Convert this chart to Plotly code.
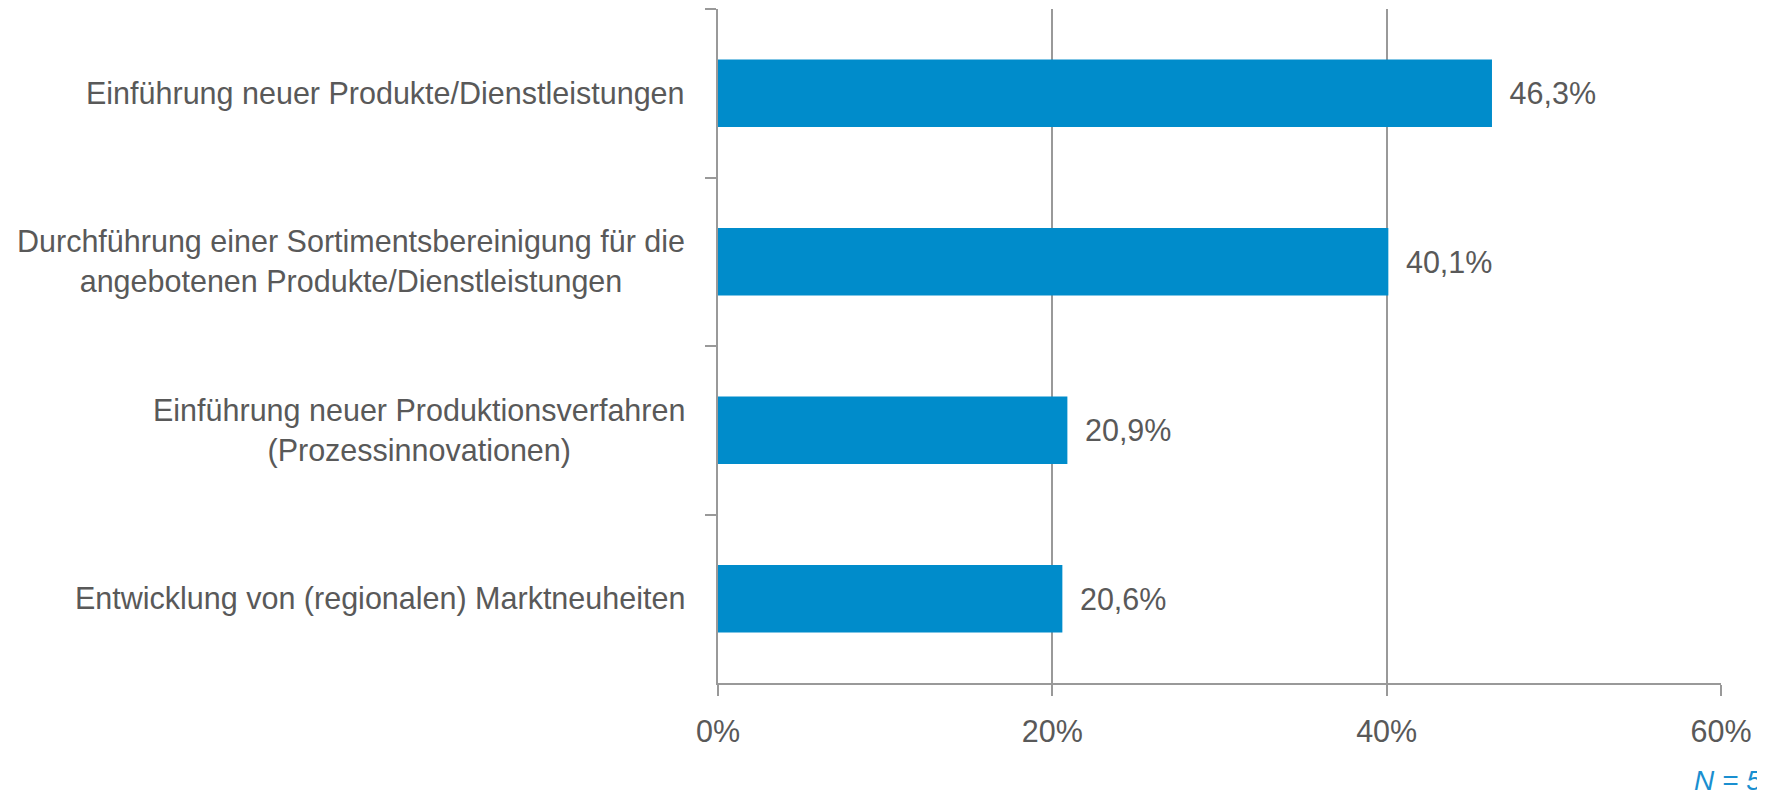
import plotly.graph_objects as go

categories = [
    "Einführung neuer Produkte/Dienstleistungen",
    "Durchführung einer Sortimentsbereinigung für die<br>angebotenen Produkte/Dienstleistungen",
    "Einführung neuer Produktionsverfahren<br>(Prozessinnovationen)",
    "Entwicklung von (regionalen) Marktneuheiten",
]
values = [46.3, 40.1, 20.9, 20.6]
value_labels = ["46,3%", "40,1%", "20,9%", "20,6%"]
x_ticks = [0, 20, 40, 60]
x_tick_labels = ["0%", "20%", "40%", "60%"]

FONT = "Liberation Sans, Arial, sans-serif"
TXT = "#595959"
AX = "#999999"
SIZE = 30.5

L, R, T, B = 710, 52, 1, 120
PW, PH = 1765 - L - R, 795 - T - B

fig = go.Figure(go.Bar(
    x=values, y=categories, orientation="h",
    marker=dict(color="#008CCB", line=dict(width=0)),
    width=0.4,
    text=["\u00a0\u2009" + t for t in value_labels],
    textposition="outside", cliponaxis=False,
    textfont=dict(family=FONT, size=SIZE, color=TXT),
))

# category labels, centred multi-line like the reference
cat_annotations = [
    dict(text=c, xref="paper", yref="y", x=0, y=c, xanchor="right", yanchor="middle",
         xshift=-31, align="center", showarrow=False,
         font=dict(family=FONT, size=SIZE, color=TXT))
    for c in categories
]

fig.update_layout(
    width=1765, height=795,
    margin=dict(l=L, r=R, t=T, b=B, autoexpand=False),
    paper_bgcolor="white", plot_bgcolor="white",
    showlegend=False,
    font=dict(family=FONT, size=SIZE, color=TXT),
    xaxis=dict(
        range=[0, 60], tickvals=x_ticks, ticktext=x_tick_labels,
        showgrid=True, gridcolor=AX, gridwidth=1.5,
        showline=True, linecolor=AX, linewidth=1.5,
        ticks="outside", ticklen=11, tickcolor=AX, tickwidth=1.5,
        zeroline=False, fixedrange=True, automargin=False,
        ticklabelstandoff=10,
        tickfont=dict(family=FONT, size=SIZE, color=TXT),
    ),
    yaxis=dict(
        autorange="reversed", automargin=False,
        showline=True, linecolor=AX, linewidth=1.5,
        ticks="outside", tickson="boundaries", ticklen=11, tickcolor=AX, tickwidth=1.5,
        showgrid=False, showticklabels=False,
    ),
    annotations=cat_annotations + [dict(
        text="<i>N = 5</i>", xref="paper", yref="paper",
        x=(1756 - L) / PW, y=-97 / PH, xanchor="right", yanchor="middle",
        showarrow=False, font=dict(family=FONT, size=28, color="#1A8FD0"),
    )],
)

fig.write_html("out.html")
